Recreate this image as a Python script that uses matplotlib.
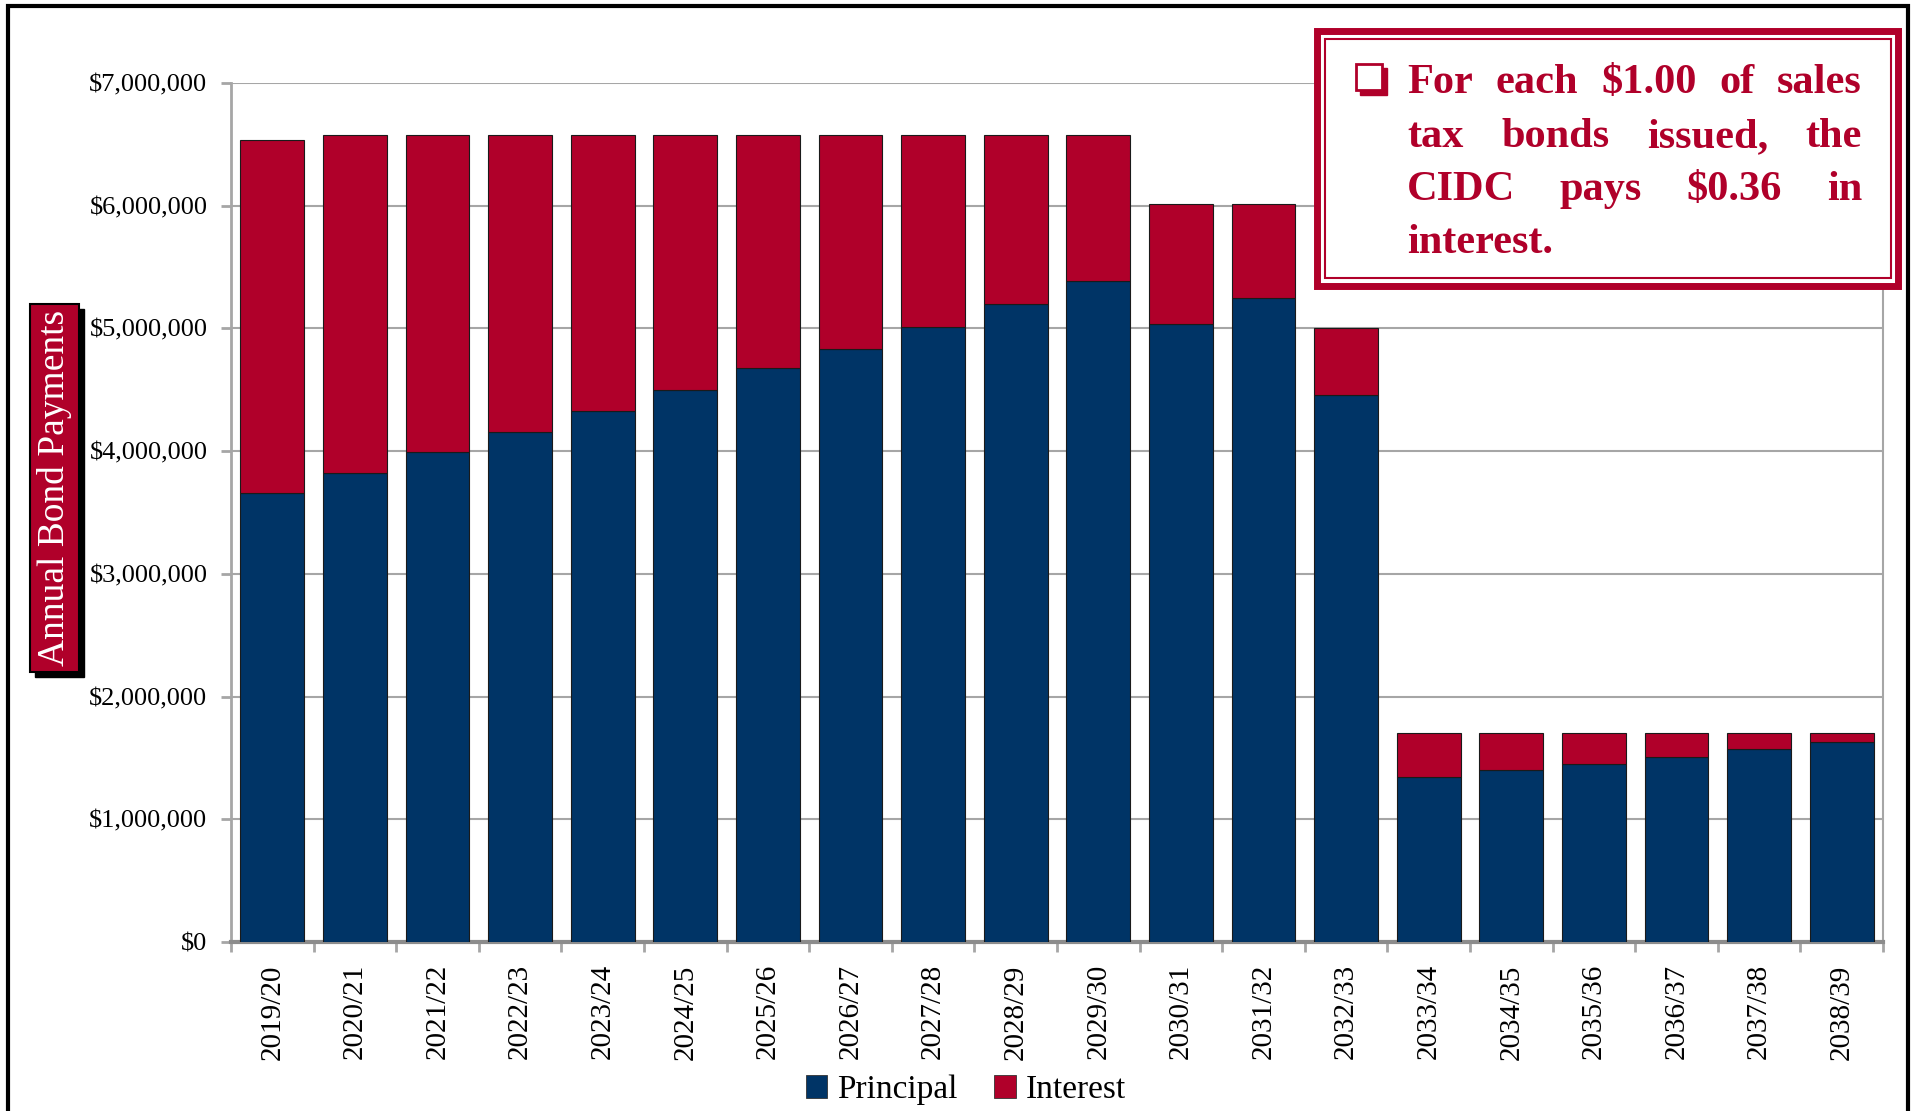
import numpy as np
import matplotlib
matplotlib.use("Agg")
import matplotlib.pyplot as plt
from matplotlib.patches import Rectangle, Patch

# fiscal years and debt service split (dollars)
years = ["2019/20", "2020/21", "2021/22", "2022/23", "2023/24", "2024/25", "2025/26",
         "2026/27", "2027/28", "2028/29", "2029/30", "2030/31", "2031/32", "2032/33",
         "2033/34", "2034/35", "2035/36", "2036/37", "2037/38", "2038/39"]
principal = [3660000, 3820000, 3990000, 4160000, 4330000, 4500000, 4675000,
             4835000, 5015000, 5195000, 5390000, 5035000, 5250000, 4460000,
             1345000, 1400000, 1450000, 1510000, 1570000, 1630000]
interest = [2875000, 2755000, 2585000, 2415000, 2245000, 2075000, 1900000,
            1740000, 1560000, 1380000, 1185000, 975000, 760000, 540000,
            355000, 300000, 250000, 190000, 130000, 70000]
yticks = [0, 1000000, 2000000, 3000000, 4000000, 5000000, 6000000, 7000000]
ylabel = "Annual Bond Payments"
note_lines = [["For", "each", "$1.00", "of", "sales"],
              ["tax", "bonds", "issued,", "the"],
              ["CIDC", "pays", "$0.36", "in"],
              ["interest."]]

NAVY = "#003466"
RED = "#B0002A"
GRID = "#A6A6A6"
W, H = 1911, 1111

plt.rcParams["font.family"] = ["Liberation Serif", "DejaVu Serif"]


def fx(x):
    return x / W


def fy(y):
    return 1 - y / H


fig = plt.figure(figsize=(W / 100, H / 100), dpi=100)
ax = fig.add_axes([fx(231), fy(942), fx(1883) - fx(231), fy(83) - fy(942)])

x = np.arange(len(years))
ax.bar(x, principal, width=0.77, color=NAVY, edgecolor="#1a1a1a", linewidth=0.8, zorder=3)
ax.bar(x, interest, width=0.77, bottom=principal, color=RED, edgecolor="#1a1a1a",
       linewidth=0.8, zorder=3)

ax.set_ylim(0, 7000000)
ax.set_xlim(-0.5, len(years) - 0.5)
ax.set_yticks(yticks)
ax.set_yticklabels(["${:,.0f}".format(v) for v in yticks], fontsize=19)
ax.yaxis.grid(True, color=GRID, linewidth=1.5, zorder=0)
ax.set_axisbelow(True)

ax.set_xticks(x)
ax.set_xticklabels(years, rotation=90, fontsize=21)
ax.set_xticks(np.arange(-0.5, len(years)), minor=True)
ax.tick_params(axis="x", which="major", length=0, pad=16)
ax.tick_params(axis="x", which="minor", length=7, width=2, color=GRID, direction="out")
ax.tick_params(axis="y", length=7, width=2, color=GRID, pad=10)

ax.spines["top"].set_visible(False)
ax.spines["left"].set_color(GRID)
ax.spines["left"].set_linewidth(2)
ax.spines["bottom"].set_color("#8c8c8c")
ax.spines["bottom"].set_linewidth(3)
ax.spines["right"].set_color(GRID)
ax.spines["right"].set_linewidth(1.5)

handles = [Patch(facecolor=NAVY, edgecolor="#333333", linewidth=0.6, label="Principal"),
           Patch(facecolor=RED, edgecolor="#333333", linewidth=0.6, label="Interest")]
fig.legend(handles=handles, loc="center", bbox_to_anchor=(fx(966), fy(1090)), ncol=2,
           frameon=False, fontsize=24, handlelength=0.65, handleheight=0.65,
           handletextpad=0.3, columnspacing=1.1, borderaxespad=0)

# outer page frame
fig.add_artist(Rectangle((fx(8), fy(1200)), fx(1908) - fx(8), fy(6) - fy(1200),
                         transform=fig.transFigure, fill=False, edgecolor="black",
                         linewidth=3, clip_on=False))

# y-axis title tab with drop shadow
fig.add_artist(Rectangle((fx(35), fy(677)), fx(49), fy(304) - fy(672),
                         transform=fig.transFigure, facecolor="black", edgecolor="black"))
fig.add_artist(Rectangle((fx(30), fy(672)), fx(49), fy(304) - fy(672),
                         transform=fig.transFigure, facecolor=RED, edgecolor="black",
                         linewidth=1.5))
fig.text(fx(55), fy(488), ylabel, rotation=90, color="white", fontsize=27,
         ha="center", va="center")

# callout box
fig.add_artist(Rectangle((fx(1317), fy(286)), fx(1898) - fx(1317), fy(31) - fy(286),
                         transform=fig.transFigure, facecolor="white", edgecolor=RED,
                         linewidth=5, zorder=5))
fig.add_artist(Rectangle((fx(1325), fy(278)), fx(1891) - fx(1325), fy(39) - fy(278),
                         transform=fig.transFigure, fill=False, edgecolor=RED,
                         linewidth=1.5, zorder=6))

# shadowed square bullet
fig.add_artist(Rectangle((fx(1360), fy(95)), fx(27), fy(65) - fy(92),
                         transform=fig.transFigure, facecolor=RED, edgecolor=RED,
                         linewidth=1, zorder=6))
fig.add_artist(Rectangle((fx(1356), fy(90)), fx(26), fy(62) - fy(88),
                         transform=fig.transFigure, facecolor="white", edgecolor=RED,
                         linewidth=2, zorder=7))

# justified note text
left, right = 1407, 1862
baselines = [93, 147, 200, 253]
renderer = fig.canvas.get_renderer()
for i, words in enumerate(note_lines):
    texts = [fig.text(0, fy(baselines[i]), w, fontsize=30.5, fontweight="bold", color=RED,
                      ha="left", va="baseline", zorder=8) for w in words]
    widths = [t.get_window_extent(renderer).width for t in texts]
    if i < len(note_lines) - 1 and len(words) > 1:
        gap = (right - left - sum(widths)) / (len(words) - 1)
    else:
        gap = 10
    pos = left
    for t, w in zip(texts, widths):
        t.set_x(fx(pos))
        pos += w + gap

fig.savefig("out.png", dpi=100)
